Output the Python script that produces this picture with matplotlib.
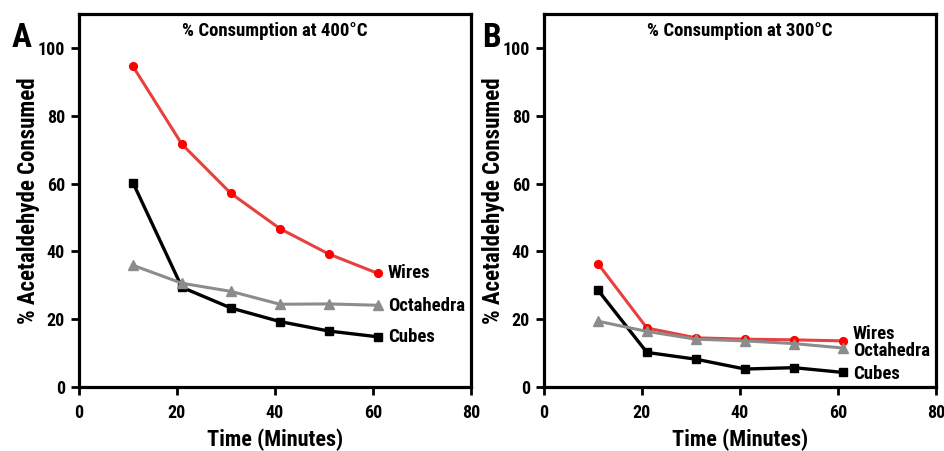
import os
import matplotlib
matplotlib.use("Agg")
import matplotlib.pyplot as plt
from matplotlib import font_manager as fm

# look for a narrow bold sans (the original uses something like Arial Narrow Bold)
prefs = ['LiberationSansNarrow-Bold', 'ArialNarrow', 'RobotoCondensed-Bold',
         'DejaVuSansCondensed-Bold', 'OpenSans_Condensed-Bold', 'OpenSansCondensed-Bold']
found = None
files = [f.fname for f in fm.fontManager.ttflist]
for p in prefs:
    for fn in files:
        if os.path.basename(fn).startswith(p):
            found = fn
            break
    if found:
        break

if found:
    fam = fm.FontProperties(fname=found).get_name()
    plt.rcParams['font.family'] = [fam, 'DejaVu Sans']
    sc = 1.0
else:
    plt.rcParams['font.family'] = ['Liberation Sans', 'DejaVu Sans']
    sc = 0.86
plt.rcParams['font.weight'] = 'bold'
plt.rcParams['axes.labelweight'] = 'bold'

time_min = [11, 21, 31, 41, 51, 61]

# panel A, 400 C
wires_400 = [94.6, 71.6, 57.1, 46.7, 39.2, 33.5]
cubes_400 = [60.3, 29.4, 23.3, 19.3, 16.5, 14.8]
octa_400 = [35.9, 30.6, 28.2, 24.4, 24.5, 24.1]

# panel B, 300 C
wires_300 = [36.4, 17.4, 14.5, 14.1, 13.9, 13.6]
cubes_300 = [28.6, 10.2, 8.2, 5.3, 5.7, 4.3]
octa_300 = [19.4, 16.4, 14.1, 13.6, 12.8, 11.5]

panels = [
    ("A", "% Consumption at 400°C", wires_400, cubes_400, octa_400,
     {"Wires": 33.6, "Octahedra": 23.9, "Cubes": 14.8}),
    ("B", "% Consumption at 300°C", wires_300, cubes_300, octa_300,
     {"Wires": 15.7, "Octahedra": 10.6, "Cubes": 3.7}),
]

fig = plt.figure(figsize=(9.45, 4.51), dpi=100)
lefts = [79 / 945, 544 / 945]
w = 392 / 945
b = 64 / 451
h = 373 / 451

for i, (letter, title, wires, cubes, octa, lab_y) in enumerate(panels):
    ax = fig.add_axes([lefts[i], b, w, h])
    ax.plot(time_min, cubes, color='black', lw=2.4, marker='s', ms=5.2, zorder=3)
    ax.plot(time_min, wires, color='#e8403f', lw=2.2, marker='o', ms=5.6,
            mfc='red', mec='red', zorder=4)
    ax.plot(time_min, octa, color='#8c8c8c', lw=2.2, marker='^', ms=7,
            mfc='#8c8c8c', mec='#8c8c8c', zorder=5)

    ax.set_xlim(0, 80)
    ax.set_ylim(0, 110)
    ax.set_xticks([0, 20, 40, 60, 80])
    ax.set_yticks([0, 20, 40, 60, 80, 100])
    ax.tick_params(direction='out', length=6, width=2, labelsize=13 * sc)
    ax.tick_params(axis='x', pad=6)
    ax.tick_params(axis='y', pad=4)
    for s in ax.spines.values():
        s.set_linewidth(2.3)

    ax.set_xlabel("Time (Minutes)", fontsize=16 * sc, va='baseline')
    ax.xaxis.set_label_coords(0.5, -0.158)
    ax.set_ylabel("% Acetaldehyde Consumed", fontsize=16.5 * sc)
    ax.yaxis.set_label_coords(-0.1, 0.5)
    ax.text(0.5, 0.955, title, transform=ax.transAxes, ha='center', va='center',
            fontsize=13.5 * sc)
    for name, yv in lab_y.items():
        ax.text(63, yv, name, ha='left', va='center', fontsize=13.5 * sc)

    ax.text(-0.172 if i == 0 else -0.158, 0.935, letter, transform=ax.transAxes,
            ha='left', va='center', fontsize=24)

fig.savefig("out.png", dpi=100)
